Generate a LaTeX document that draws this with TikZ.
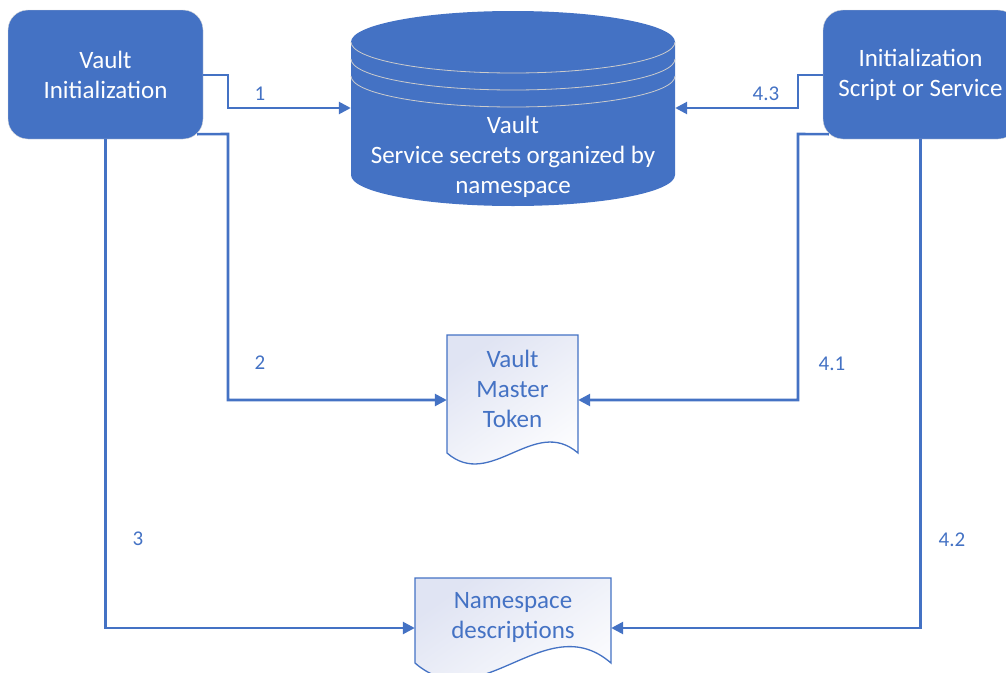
\documentclass[tikz,border=0pt]{standalone}
\usepackage{fontspec}
\setmainfont{Carlito}
\usetikzlibrary{arrows.meta,calc}

\definecolor{vblue}{RGB}{68,114,196}
\definecolor{docfill}{RGB}{224,228,243}

\newcommand{\bigtxt}{\fontsize{25}{30}\selectfont}
\newcommand{\lbltxt}{\fontsize{21}{25}\selectfont}

% document shape: left x, right x, top y, base y
\newcommand{\docpath}[4]{%
  \pgfmathsetmacro{\docw}{(#2-#1)/3}
  \pgfmathsetmacro{\docc}{(#2-#1)*0.29}
  \path[docbody] (#1,#4) -- (#1,#3) -- (#2,#3) -- (#2,#4)
    .. controls +(-\docw,-\docc) and +(\docw,\docc) .. (#1,#4) -- cycle;
}

\tikzset{
  procbox/.style={fill=vblue, draw=black!15, rounded corners=20pt,
    minimum width=195pt, minimum height=129pt, text=white, align=center, font=\bigtxt},
  docbody/.style={draw=vblue, line width=1.3pt, top color=docfill, bottom color=white, shading angle=35},
  doctext/.style={inner sep=0pt, align=center, text=vblue, font=\bigtxt},
  dbline/.style={draw=black!20, line width=0.8pt},
  flow/.style={draw=vblue, line width=2.6pt, -{Triangle[length=12pt,width=12pt]}},
  lbl/.style={text=vblue, font=\lbltxt}
}

\begin{document}
\begin{tikzpicture}[x=1pt,y=-1pt]
\clip (0,0) rectangle (1006,672);

% database cylinder
\fill[vblue] (351,42) -- (351,175) arc[start angle=180, end angle=360, x radius=162pt, y radius=31pt]
  -- (675,42) arc[start angle=0, end angle=180, x radius=162pt, y radius=31pt] -- cycle;
\foreach \dy in {0,17,34}
  \draw[dbline] (351,{42+\dy}) arc[start angle=180, end angle=360, x radius=162pt, y radius=31pt];
\node[inner sep=0pt, minimum width=324pt, align=center, text=white, font=\bigtxt] (db) at (513,157)
  {Vault\\Service secrets organized by\\namespace};

% documents
\docpath{447}{578}{335}{453}
\node[doctext, minimum width=131pt] (vmt) at (512.5,389) {Vault\\Master\\Token};
\docpath{415}{611}{578}{663}
\node[doctext, minimum width=196pt] (nsdesc) at (513,617) {Namespace\\descriptions};

% process boxes
\node[procbox] (vinit) at (105.5,74.5) {Vault\\Initialization};
\node[procbox] (iscript) at (920.5,74.5) {Initialization\\Script or Service};

% connectors
\draw[flow] (vinit.east |- 0,75) -- (228,75) -- (228,108) -- (db.west |- 0,108);
\draw[flow] ($(vinit.south east)+(-6,-5)$) -- (228,134) -- (228,400) -- (vmt.west |- 0,400);
\draw[flow] (vinit.south) |- (nsdesc.west |- 0,628);
\draw[flow] (iscript.west |- 0,75) -- (798,75) -- (798,108) -- (db.east |- 0,108);
\draw[flow] ($(iscript.south west)+(6,-5)$) -- (798,134) -- (798,400) -- (vmt.east |- 0,400);
\draw[flow] (iscript.south) |- (nsdesc.east |- 0,628);

% step labels
\node[lbl] (n1) at (260,94) {1};
\node[lbl] (n2) at (260,363) {2};
\node[lbl] (n3) at (138,539) {3};
\node[lbl] (n43) at (766,94) {4.3};
\node[lbl] (n41) at (832,364) {4.1};
\node[lbl] (n42) at (952,540) {4.2};
\end{tikzpicture}
\end{document}
